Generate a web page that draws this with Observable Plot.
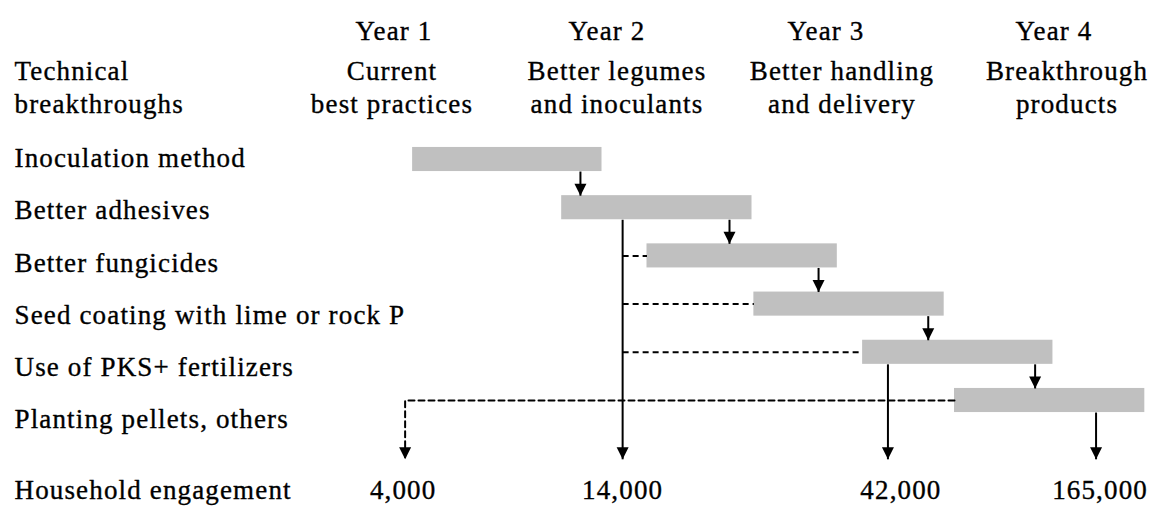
<!DOCTYPE html>
<html>
<head>
<meta charset="utf-8">
<script src="https://cdn.jsdelivr.net/npm/d3@7"></script>
<script src="https://cdn.jsdelivr.net/npm/@observablehq/plot@0.6"></script>
<style>
html, body { margin: 0; padding: 0; background: #ffffff; }
#chart svg text { letter-spacing: 1.15px; }
</style>
</head>
<body>
<div id="chart"></div>
<script>
// ---- data ----
const years = ["Year 1", "Year 2", "Year 3", "Year 4"];
const stages = ["Current\nbest practices", "Better legumes\nand inoculants", "Better handling\nand delivery", "Breakthrough\nproducts"];
const headerLabel = "Technical\nbreakthroughs";
const breakthroughs = [
  "Inoculation method",
  "Better adhesives",
  "Better fungicides",
  "Seed coating with lime or rock P",
  "Use of PKS+ fertilizers",
  "Planting pellets, others"
];
// timeline in months from the start of Year 1
const startMonth = [7.1, 15.05, 19.6, 25.3, 31.1, 36.0];
const endMonth   = [17.2, 25.2, 29.75, 35.45, 41.25, 46.15];
// hand-off arrows: from breakthrough i to breakthrough i+1, at this month
const handoffMonth = [16.05, 24.0, 28.75, 34.6, 40.3];
// household engagement milestones
const householdLabel = "Household engagement";
const households = [4000, 14000, 42000, 165000];
const householdMonth = [6.7, 18.3, 32.45, 43.55];
const householdSource = [5, 1, 4, 5];          // breakthrough feeding each milestone
const householdSolid = [false, true, true, true];
const joinsTo14000 = [2, 3, 4];               // dashed joins into the 14,000 line

// ---- layout constants ----
const barHalf = 0.25;          // half bar thickness in row units
const labelStep = 1.083;       // label rows are spaced a bit wider than bar rows
const labelOffset = -0.02;
const householdRow = 6.86;
const arrowTipRow = 6.22;
const yearRow = -2.66;
const stageRow = -1.52;
const yearLabelDx = [2, -10, -16, -13];
const valueLabelDx = [-2, 0, 13, 4];
const font = "'Liberation Serif', 'Times New Roman', Times, serif";
const fs = 27;

const bars = breakthroughs.map((name, i) => ({name, i, x1: startMonth[i], x2: endMonth[i]}));
const handoffs = handoffMonth.map((m, i) => ({x: m, y1: i + barHalf, y2: i + 1 - barHalf}));
const milestones = households.map((v, k) => ({
  value: v, x: householdMonth[k], src: householdSource[k], solid: householdSolid[k], dx: valueLabelDx[k]
}));
const solidDrops = milestones.filter(d => d.solid).map(d => ({x: d.x, y1: d.src + barHalf, y2: arrowTipRow}));
const m14 = milestones.find(d => d.value === 14000);
const joins = joinsTo14000.map(i => ({x1: m14.x, x2: startMonth[i], y: i}));
const m4 = milestones.find(d => !d.solid);
const dashedPath = [
  {x: startMonth[m4.src], y: m4.src},
  {x: m4.x, y: m4.src},
  {x: m4.x, y: arrowTipRow}
];
const heads = [
  ...handoffs.map(d => ({x: d.x, y: d.y2})),
  ...milestones.map(d => ({x: d.x, y: arrowTipRow}))
];

const downHead = {
  draw(ctx, size) {
    const k = Math.sqrt(size / Math.PI) / 4;
    ctx.moveTo(0, 0);
    ctx.lineTo(-6 * k, -12 * k);
    ctx.lineTo(6 * k, -12 * k);
    ctx.closePath();
  }
};

const textOpts = {fontFamily: font, fontSize: fs, fill: "black", stroke: "black", strokeWidth: 0.35};

const marks = [
  // bars
  Plot.rect(bars, {x1: "x1", x2: "x2", y1: d => d.i - barHalf, y2: d => d.i + barHalf, fill: "#c0c0c0"}),
  // dashed joins
  Plot.link(joins, {x1: "x1", x2: "x2", y1: "y", y2: "y", stroke: "black", strokeWidth: 2, strokeDasharray: "6,4"}),
  Plot.line(dashedPath, {x: "x", y: "y", stroke: "black", strokeWidth: 2, strokeDasharray: "6,4"}),
  // solid arrows
  Plot.link(handoffs, {x1: "x", x2: "x", y1: "y1", y2: "y2", stroke: "black", strokeWidth: 2}),
  Plot.link(solidDrops, {x1: "x", x2: "x", y1: "y1", y2: "y2", stroke: "black", strokeWidth: 2}),
  Plot.dot(heads, {x: "x", y: "y", symbol: downHead, r: 4, fill: "black", stroke: "none"}),
  // header
  Plot.text(stages, {x: (d, i) => 12 * i + 6, y: () => stageRow, text: d => d, lineHeight: 1.22, ...textOpts}),
  Plot.text([headerLabel], {frameAnchor: "left", dx: 14, y: () => stageRow, text: d => d, textAnchor: "start", lineHeight: 1.22, ...textOpts}),
  // row labels
  Plot.text(breakthroughs, {frameAnchor: "left", dx: 14, y: (d, i) => labelOffset + labelStep * i, text: d => d, textAnchor: "start", ...textOpts}),
  // household engagement
  Plot.text([householdLabel], {frameAnchor: "left", dx: 14, y: () => householdRow, text: d => d, textAnchor: "start", ...textOpts})
];
years.forEach((yr, i) => {
  marks.push(Plot.text([yr], {x: () => 12 * i + 6, y: () => yearRow, text: d => d, dx: yearLabelDx[i], ...textOpts}));
});
milestones.forEach(m => {
  marks.push(Plot.text([m], {x: "x", y: () => householdRow, text: d => d3.format(",")(d.value), dx: m.dx, ...textOpts}));
});

const chart = Plot.plot({
  width: 1151,
  height: 506,
  marginTop: 0, marginRight: 0, marginBottom: 0, marginLeft: 0,
  x: {domain: [0, 48], range: [279, 1179], axis: null},
  y: {domain: [0, 5], range: [159, 400], axis: null},
  style: {background: "white"},
  marks
});
document.getElementById("chart").appendChild(chart);
</script>
</body>
</html>
